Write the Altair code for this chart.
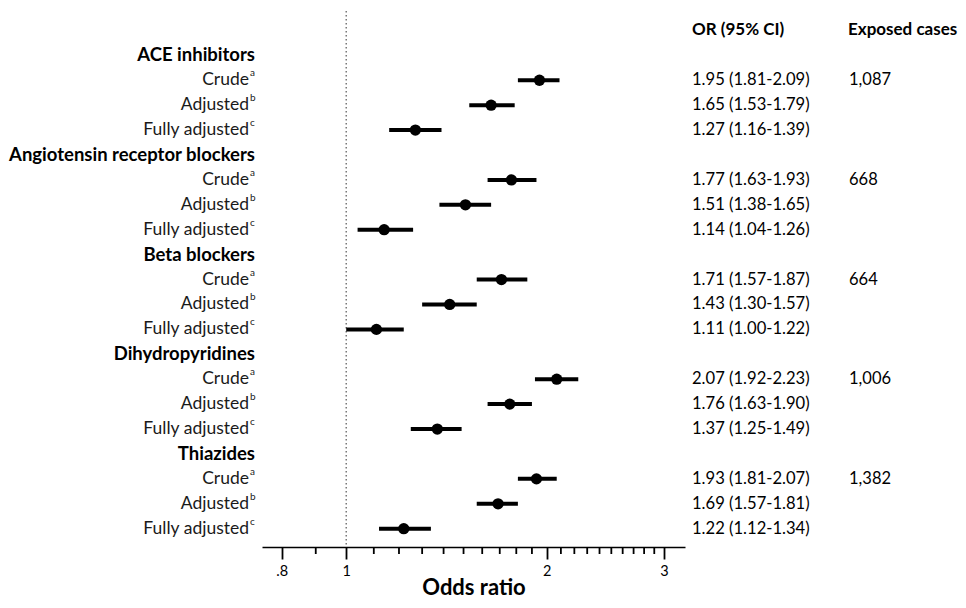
import altair as alt
import pandas as pd

drugs = ["ACE inhibitors", "Angiotensin receptor blockers", "Beta blockers",
         "Dihydropyridines", "Thiazides"]
models = ["Crude", "Adjusted", "Fully adjusted"]
sups = ["a", "b", "c"]
or_est = [[1.95, 1.65, 1.27], [1.77, 1.51, 1.14], [1.71, 1.43, 1.11],
          [2.07, 1.76, 1.37], [1.93, 1.69, 1.22]]
or_lo = [[1.81, 1.53, 1.16], [1.63, 1.38, 1.04], [1.57, 1.30, 1.00],
         [1.92, 1.63, 1.25], [1.81, 1.57, 1.12]]
or_hi = [[2.09, 1.79, 1.39], [1.93, 1.65, 1.26], [1.87, 1.57, 1.22],
         [2.23, 1.90, 1.49], [2.07, 1.81, 1.34]]
exposed = ["1,087", "668", "664", "1,006", "1,382"]
major_ticks = [0.8, 1, 2, 3]
minor_ticks = [0.9, 1.1, 1.2, 1.3, 1.4, 1.5, 1.6, 1.7, 1.8, 1.9,
               2.1, 2.2, 2.3, 2.4, 2.5, 2.6, 2.7, 2.8, 2.9]

FONT = "Lato"
W, H = 423, 536

head_rows, est_rows = [], []
r = 0
for i, d in enumerate(drugs):
    head_rows.append({"row": r, "label": d})
    r += 1
    for j, m in enumerate(models):
        est_rows.append({
            "row": r, "label": m, "sup": sups[j],
            "or": or_est[i][j], "lo": or_lo[i][j], "hi": or_hi[i][j],
            "ortext": f"{or_est[i][j]:.2f} ({or_lo[i][j]:.2f}-{or_hi[i][j]:.2f})",
            "exp": exposed[i] if j == 0 else "",
        })
        r += 1

heads = pd.DataFrame(head_rows)
est = pd.DataFrame(est_rows)
colhdr = pd.DataFrame({"row": [-1, -1], "label": ["OR (95% CI)", "Exposed cases"],
                       "col": [0, 1]})

xscale = alt.Scale(type="log", domain=[0.7474, 3.225], nice=False, zero=False)
yscale = alt.Scale(domain=[-1.78, 19.735], reverse=True)
Y = alt.Y("row:Q", scale=yscale, axis=None)

base_est = alt.Chart(est)

ref = alt.Chart(pd.DataFrame({"v": [1]})).mark_rule(
    color="#777777", strokeDash=[1.5, 2.5], strokeWidth=1.5
).encode(x=alt.X("v:Q", scale=xscale,
                 axis=alt.Axis(values=major_ticks, title="Odds ratio",
                               labelExpr="datum.value < 1 ? '.8' : '' + datum.value",
                               tickSize=12, tickWidth=1.8, tickColor="black",
                               domainColor="black", domainWidth=1.5,
                               labelFont=FONT, labelFontSize=14.5, labelColor="black",
                               labelPadding=5, grid=False,
                               titleFont=FONT, titleFontSize=22, titleFontWeight="bold",
                               titleColor="black", titlePadding=0)))

minor = alt.Chart(pd.DataFrame({"t": minor_ticks})).mark_rule(
    color="black", strokeWidth=1.8
).encode(x=alt.X("t:Q", scale=xscale), y=alt.value(H), y2=alt.value(H + 7))

ci = base_est.mark_rule(color="black", strokeWidth=4).encode(
    x=alt.X("lo:Q", scale=xscale), x2="hi:Q", y=Y)
pts = base_est.mark_circle(color="black", opacity=1, size=127).encode(
    x=alt.X("or:Q", scale=xscale), y=Y)

lab = base_est.mark_text(align="right", baseline="middle", font=FONT, fontSize=17.5,
                         color="#1a1a1a").encode(
    x=alt.value(-13), y=Y, text="label:N")
sup = base_est.mark_text(align="left", baseline="middle", font=FONT, fontSize=10,
                         dy=-7, color="#1a1a1a").encode(
    x=alt.value(-12), y=Y, text="sup:N")
hd = alt.Chart(heads).mark_text(align="right", baseline="middle", font=FONT,
                                fontSize=18.5, fontWeight="bold", color="black").encode(
    x=alt.value(-7), y=Y, text="label:N")
ortxt = base_est.mark_text(align="left", baseline="middle", font=FONT, fontSize=16.6,
                           color="black").encode(
    x=alt.value(430), y=Y, text="ortext:N")
exptxt = base_est.mark_text(align="left", baseline="middle", font=FONT, fontSize=16.5,
                            color="black").encode(
    x=alt.value(587), y=Y, text="exp:N")
ch1 = alt.Chart(colhdr[colhdr.col == 0]).mark_text(
    align="left", baseline="middle", font=FONT, fontSize=17, fontWeight="bold",
    color="black").encode(x=alt.value(430), y=Y, text="label:N")
ch2 = alt.Chart(colhdr[colhdr.col == 1]).mark_text(
    align="left", baseline="middle", font=FONT, fontSize=17, fontWeight="bold",
    color="black").encode(x=alt.value(586), y=Y, text="label:N")

chart = alt.layer(ref, minor, ci, pts, lab, sup, hd, ortxt, exptxt, ch1, ch2).properties(
    width=W, height=H,
    background="white",
    autosize=alt.AutoSizeParams(type="none"),
    padding={"left": 254, "top": 3, "right": 273, "bottom": 53},
).configure_view(stroke=None)

chart.save("out.html", embed_options={"renderer": "svg", "actions": False})
